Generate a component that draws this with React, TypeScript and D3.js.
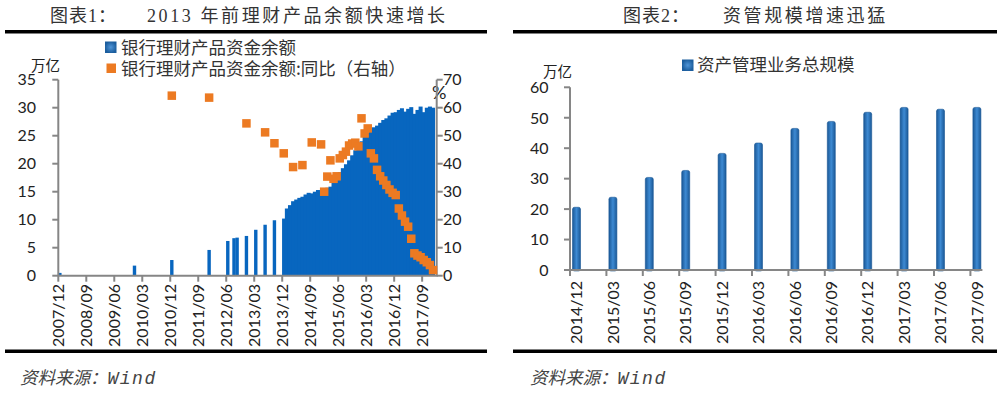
import React from "react";
import * as d3 from "d3";

// ---------- chart 1 data ----------
// balance, 万亿 (sparse before 2014, monthly afterwards)
const balanceSparseDates = ["2007/12", "2009/12", "2010/12", "2011/12", "2012/06", "2012/08", "2012/09", "2012/12", "2013/03", "2013/06", "2013/09", "2013/12"];
const balanceSparseValues = [0.5, 1.8, 2.8, 4.6, 6.2, 6.7, 6.8, 7.1, 8.2, 9.1, 9.9, 10.2];
const balanceMonthlyStart = "2014/01";
const balanceMonthlyValues = [
  12.0, 12.6, 13.3, 13.6, 13.9, 14.1, 14.5, 14.8, 14.7, 15.0, 15.3, 15.0,
  15.4, 15.7, 15.9, 16.6, 17.5, 18.5, 19.2, 19.9, 20.6, 21.5, 22.4, 23.5,
  24.0, 24.8, 25.5, 26.0, 26.5, 26.8, 27.3, 27.8, 28.1, 28.6, 29.1, 29.2,
  29.6, 29.9, 29.3, 29.8, 30.1, 28.9, 29.6, 30.2, 29.2, 30.0, 30.2, 30.0,
];
// yoy, % (right axis)
const yoySparseDates = ["2010/12", "2011/12", "2012/12", "2013/06", "2013/09", "2013/12", "2014/03", "2014/06", "2014/09", "2014/12"];
const yoySparseValues = [64.3, 63.6, 54.4, 51.2, 47.3, 43.7, 38.8, 39.5, 47.6, 46.9];
const yoyMonthlyStart = "2015/01";
const yoyMonthlyValues = [
  30.0, 35.4, 41.2, 34.6, 35.5, 41.9, 43.1, 44.3, 46.5, 47.2, 47.5, 46.2,
  56.2, 50.8, 52.6, 43.7, 41.9, 37.8, 35.5, 34.0, 32.4, 30.8, 29.6, 28.8,
  24.0, 21.5, 19.3, 17.5, 13.2, 8.0, 7.2, 6.6, 5.6, 4.8, 3.8, 2.0,
];
const leftTickLabels = ["2007/12", "2008/09", "2009/06", "2010/03", "2010/12", "2011/09", "2012/06", "2013/03", "2013/12", "2014/09", "2015/06", "2016/03", "2016/12", "2017/09"];
const leftYTicks = [0, 5, 10, 15, 20, 25, 30, 35];
const rightYTicksPct = [0, 10, 20, 30, 40, 50, 60, 70];

// ---------- chart 2 data ----------
const amCategories = ["2014/12", "2015/03", "2015/06", "2015/09", "2015/12", "2016/03", "2016/06", "2016/09", "2016/12", "2017/03", "2017/06", "2017/09"];
const amValues = [20.6, 23.9, 30.4, 32.7, 38.3, 41.7, 46.5, 48.8, 51.8, 53.4, 52.8, 53.4];
const amYTicks = [0, 10, 20, 30, 40, 50, 60];

const BLUE = "#0866bf";
const ORANGE = "#ec7a22";
const AXIS = "#868686";
const TEXT = "#222";
const SANS = "Lato, 'Noto Sans CJK SC', sans-serif";
const CJK = "'Noto Sans CJK SC', sans-serif";
const TITLE = "'Liberation Serif', 'Noto Sans CJK SC', serif";

const monthIndex = (s: string) => {
  const [y, m] = s.split("/").map(Number);
  return (y - 2007) * 12 + (m - 12);
};

function Source({ x }: { x: number }) {
  return (
    <text x={x} y={378} dy="0.35em" fontStyle="italic" fill="#444">
      <tspan fontFamily={CJK} fontSize={17.5}>资料来源：</tspan>
      <tspan fontFamily="'Liberation Mono', monospace" fontSize={18} letterSpacing={1.5}>Wind</tspan>
    </text>
  );
}

export default function App() {
  // ----- left chart scales -----
  const xL = d3.scaleLinear().domain([0, 122]).range([58.3, 437.7]);
  const yL = d3.scaleLinear().domain([0, 35]).range([275.7, 79.7]);
  const yR = d3.scaleLinear().domain([0, 70]).range([275.7, 79.7]);

  const start = monthIndex(balanceMonthlyStart);
  const sparse = balanceSparseDates.map((d, i) => ({ m: monthIndex(d), v: balanceSparseValues[i] }));
  const monthly = balanceMonthlyValues.map((v, i) => ({ m: start + i, v }));
  const ys = monthIndex(yoyMonthlyStart);
  const yoy = [
    ...yoySparseDates.map((d, i) => ({ m: monthIndex(d), v: yoySparseValues[i] })),
    ...yoyMonthlyValues.map((v, i) => ({ m: ys + i, v })),
  ];
  const barW = 3.4;
  const denseW = xL(1) - xL(0) + 0.9;
  const sq = 8.5;

  // ----- right chart scales -----
  const step2 = 36.4;
  const x2 = d3.scaleLinear().domain([0, 1]).range([570, 570 + step2]);
  const y2 = d3.scaleLinear().domain([0, 60]).range([270, 87.3]);
  const bw2 = 8;

  return (
    <svg width={1004} height={395} style={{ position: "absolute", left: 0, top: 0, background: "#fff" }}>
      <defs>
        <linearGradient id="barGrad" x1="0" x2="1" y1="0" y2="0">
          <stop offset="0" stopColor="#1a5896" />
          <stop offset="0.5" stopColor="#3d8ad3" />
          <stop offset="1" stopColor="#1a5896" />
        </linearGradient>
        <radialGradient id="legGrad">
          <stop offset="0" stopColor="#4f95d8" />
          <stop offset="1" stopColor="#1c5e9e" />
        </radialGradient>
      </defs>

      {/* ================= chart 1 ================= */}
      <text x={50} y={22} fontFamily={TITLE} fontSize={18} fill="#333" letterSpacing={1}>图表1：</text>
      <text x={147} y={22} fontFamily={TITLE} fontSize={18} fill="#333" letterSpacing={2.6}>2013 年前理财产品余额快速增长</text>
      <rect x={5} y={30} width={482} height={3.5} fill="#000" />

      {/* legend */}
      <rect x={105} y={41.5} width={11.5} height={11.5} fill="url(#legGrad)" />
      <text x={121} y={47.5} dy="0.35em" fontFamily={CJK} fontSize={17.5} fill="#333">银行理财产品资金余额</text>
      <rect x={106.5} y={63.5} width={9.5} height={9.5} fill={ORANGE} />
      <text x={121} y={68.5} dy="0.35em" fontFamily={CJK} fontSize={17.5} fill="#333">银行理财产品资金余额:同比（右轴）</text>

      <text x={31} y={65.5} dy="0.35em" fontFamily={CJK} fontSize={14.5} fill={TEXT}>万亿</text>
      <text x={432} y={93} dy="0.35em" fontFamily={SANS} fontSize={18} fill={TEXT}>%</text>

      {/* bars */}
      {sparse.map((d, i) => (
        <rect key={"b" + i} x={xL(d.m + 0.5) - barW / 2} y={yL(d.v)} width={barW} height={yL(0) - yL(d.v)} fill={BLUE} />
      ))}
      {monthly.map((d, i) => (
        <rect key={"bm" + i} x={xL(d.m + 0.5) - denseW / 2} y={yL(d.v)} width={denseW} height={yL(0) - yL(d.v)} fill={BLUE} />
      ))}

      {/* axes */}
      <line x1={xL(0)} x2={xL(0)} y1={yL(0)} y2={yL(35)} stroke={AXIS} strokeWidth={2} />
      {leftYTicks.map((t) => (
        <g key={"ly" + t}>
          <line x1={xL(0) - 6} x2={xL(0)} y1={yL(t)} y2={yL(t)} stroke={AXIS} strokeWidth={2} />
          <text x={36} y={yL(t)} dy="0.36em" textAnchor="end" fontFamily={SANS} fontSize={16} fill={TEXT}>{t}</text>
        </g>
      ))}
      <line x1={xL(122) - 1} x2={xL(122) - 1} y1={yR(0)} y2={yR(70)} stroke={AXIS} strokeWidth={2} />
      {rightYTicksPct.map((t) => (
        <g key={"ry" + t}>
          <line x1={xL(122) - 1} x2={xL(122) + 5} y1={yR(t)} y2={yR(t)} stroke={AXIS} strokeWidth={2} />
          <text x={443} y={yR(t)} dy="0.36em" fontFamily={SANS} fontSize={16} fill={TEXT}>{t}</text>
        </g>
      ))}
      <line x1={xL(0)} x2={xL(122)} y1={yL(0)} y2={yL(0)} stroke={AXIS} strokeWidth={2} />
      {leftTickLabels.map((lab) => {
        const x = xL(monthIndex(lab));
        return (
          <g key={"lx" + lab}>
            <line x1={x} x2={x} y1={yL(0)} y2={yL(0) + 6} stroke={AXIS} strokeWidth={2} />
            <text transform={`translate(${x},${284}) rotate(-90)`} dy="0.36em" textAnchor="end" fontFamily={SANS} fontSize={16} fill={TEXT}>{lab}</text>
          </g>
        );
      })}

      {/* yoy markers */}
      {yoy.map((d, i) => (
        <rect key={"o" + i} x={xL(d.m + 0.5) - sq / 2} y={yR(d.v) - sq / 2} width={sq} height={sq} fill={ORANGE} />
      ))}

      <rect x={5} y={349.5} width={482} height={3.5} fill="#000" />
      <Source x={20} />

      {/* ================= chart 2 ================= */}
      <text x={623} y={22} fontFamily={TITLE} fontSize={18} fill="#333" letterSpacing={1}>图表2：</text>
      <text x={723} y={22} fontFamily={TITLE} fontSize={18} fill="#333" letterSpacing={2.6}>资管规模增速迅猛</text>
      <rect x={513} y={30} width={484} height={3.5} fill="#000" />

      <rect x={682} y={59.5} width={11.5} height={11.5} fill="url(#legGrad)" />
      <text x={697} y={65} dy="0.35em" fontFamily={CJK} fontSize={17.5} fill="#333">资产管理业务总规模</text>
      <text x={543} y={72} dy="0.35em" fontFamily={CJK} fontSize={14.5} fill={TEXT}>万亿</text>

      {amValues.map((v, i) => (
        <rect key={"a" + i} x={x2(i) + 6.5 - bw2 / 2} y={y2(v)} width={bw2} height={y2(0) - y2(v) + 1} rx={2} fill="url(#barGrad)" stroke="#1a5896" strokeWidth={0.6} />
      ))}

      <line x1={570} x2={570} y1={y2(0)} y2={y2(60)} stroke={AXIS} strokeWidth={2} />
      {amYTicks.map((t) => (
        <g key={"ay" + t}>
          <line x1={564} x2={570} y1={y2(t)} y2={y2(t)} stroke={AXIS} strokeWidth={2} />
          <text x={548.5} y={y2(t)} dy="0.36em" textAnchor="end" fontFamily={SANS} fontSize={16} fill={TEXT}>{t}</text>
        </g>
      ))}
      <line x1={570} x2={x2(11) + 12} y1={y2(0)} y2={y2(0)} stroke={AXIS} strokeWidth={2} />
      {amCategories.map((c, i) => (
        <g key={"ax" + c}>
          <line x1={x2(i)} x2={x2(i)} y1={y2(0)} y2={y2(0) + 6} stroke={AXIS} strokeWidth={2} />
          <text transform={`translate(${x2(i) + 6.5},${281}) rotate(-90)`} dy="0.36em" textAnchor="end" fontFamily={SANS} fontSize={16} fill={TEXT}>{c}</text>
        </g>
      ))}

      <rect x={513} y={349.5} width={484} height={3.5} fill="#000" />
      <Source x={530} />
    </svg>
  );
}
